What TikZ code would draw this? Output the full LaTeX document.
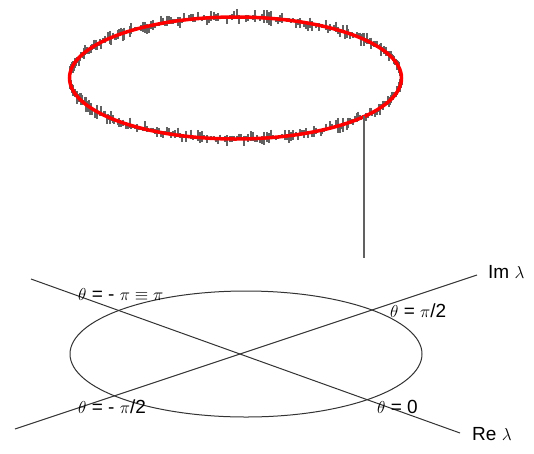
\documentclass[tikz,border=0pt]{standalone}
\usepackage{fontspec}
\setmainfont{Liberation Sans}
\usetikzlibrary{positioning}

\tikzset{
    noise/.style={draw=black!62, line width=2pt},
    ring/.style={draw=red, line width=3.5pt},
    axis/.style={draw=black!80, line width=1pt},
    plane/.style={draw=black!80, line width=1pt},
    lbl/.style={anchor=west, inner sep=0pt, font=\fontsize{19}{21}\selectfont}
}

\begin{document}
\begin{tikzpicture}[x=1pt,y=-1pt]
    \useasboundingbox (0,0) rectangle (534,453);

    % noisy ring of eigenvalues
    \pgfmathsetseed{11}
    \foreach \a in {0,0.8,...,359.9}{
        \pgfmathsetmacro{\px}{235.5+166*cos(\a)}
        \pgfmathsetmacro{\py}{78+61*sin(\a)}
        \pgfmathsetmacro{\up}{1+7*rnd^2}
        \pgfmathsetmacro{\dn}{1+7*rnd^2}
        \draw[noise] (\px,\py-\up) -- (\px,\py+\dn);
    }
    \draw[ring] (235.5,78) ellipse[x radius=166, y radius=61];

    % stem down to the plane
    \coordinate (stemtop) at (364,116);
    \coordinate (stembot) at (364,258);
    \draw[noise] (stemtop) -- (stembot);

    % complex plane
    \draw[plane] (246,354) ellipse[x radius=176, y radius=63];
    \coordinate (imstart) at (15,429);
    \coordinate (imend) at (477,275);
    \coordinate (restart) at (31,279);
    \coordinate (reend) at (460,433);
    \draw[axis] (imstart) -- (imend);
    \draw[axis] (restart) -- (reend);

    \node[lbl] (imlbl) at (488,272) {Im $\lambda$};
    \node[lbl] (relbl) at (472,434) {Re $\lambda$};

    \node[lbl] (thpi) at (78,294) {$\theta$ = - $\pi\equiv\pi$};
    \node[lbl] (thhalf) at (390,311) {$\theta$ = $\pi$/2};
    \node[lbl] (thmhalf) at (78,407) {$\theta$ = - $\pi$/2};
    \node[lbl] (thzero) at (377,407) {$\theta$ = 0};
\end{tikzpicture}
\end{document}
